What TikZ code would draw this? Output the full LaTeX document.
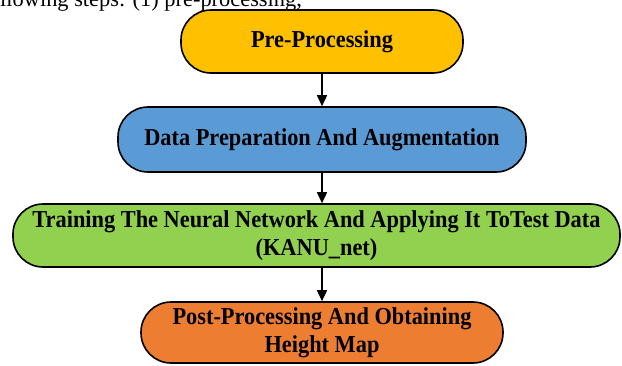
\documentclass[tikz,border=0pt]{standalone}
\usepackage{fontspec}
\setmainfont{Liberation Serif}
\newfontfamily\stagefont[FakeStretch=0.92]{Liberation Serif}
\usetikzlibrary{arrows.meta}
\definecolor{preyellow}{HTML}{FFC000}
\definecolor{prepblue}{HTML}{5B9BD5}
\definecolor{traingreen}{HTML}{92D050}
\definecolor{postorange}{HTML}{ED7D31}

\begin{document}
\begin{tikzpicture}[x=1pt,y=-1pt,
		stage/.style={draw=black, line width=1.6pt, rounded corners=30pt, inner sep=0pt, align=center, font=\stagefont\fontsize{24.3}{28}\selectfont\bfseries},
		flow/.style={line width=1.6pt, -{Triangle[length=11pt,width=10pt]}}]
				\useasboundingbox (0,0) rectangle (622,365);
				
				\node[anchor=base west, inner sep=0pt, font=\fontsize{22.4}{26}\selectfont] (intro) at (0,6) {llowing steps: (1) pre-processing,};
				
				\node[stage, fill=preyellow, minimum width=282pt, minimum height=63pt] (pre) at (322,41.5) {Pre-Processing};
				\node[stage, fill=prepblue, minimum width=408pt, minimum height=65pt] (prep) at (322,139.5) {Data Preparation And Augmentation};
				\node[stage, fill=traingreen, minimum width=607pt, minimum height=63pt] (train) at (316.5,235.5) {Training The Neural Network And Applying It ToTest Data\\(KANU\_net)};
				\node[stage, fill=postorange, minimum width=362pt, minimum height=61pt] (post) at (322,332.5) {Post-Processing And Obtaining\\Height Map};
				
				\draw[flow] (pre) -- (prep);
				\draw[flow] (prep.south) -- (prep.south |- train.north);
				\draw[flow] (train.south -| post.north) -- (post);
			\end{tikzpicture}
\end{document}
